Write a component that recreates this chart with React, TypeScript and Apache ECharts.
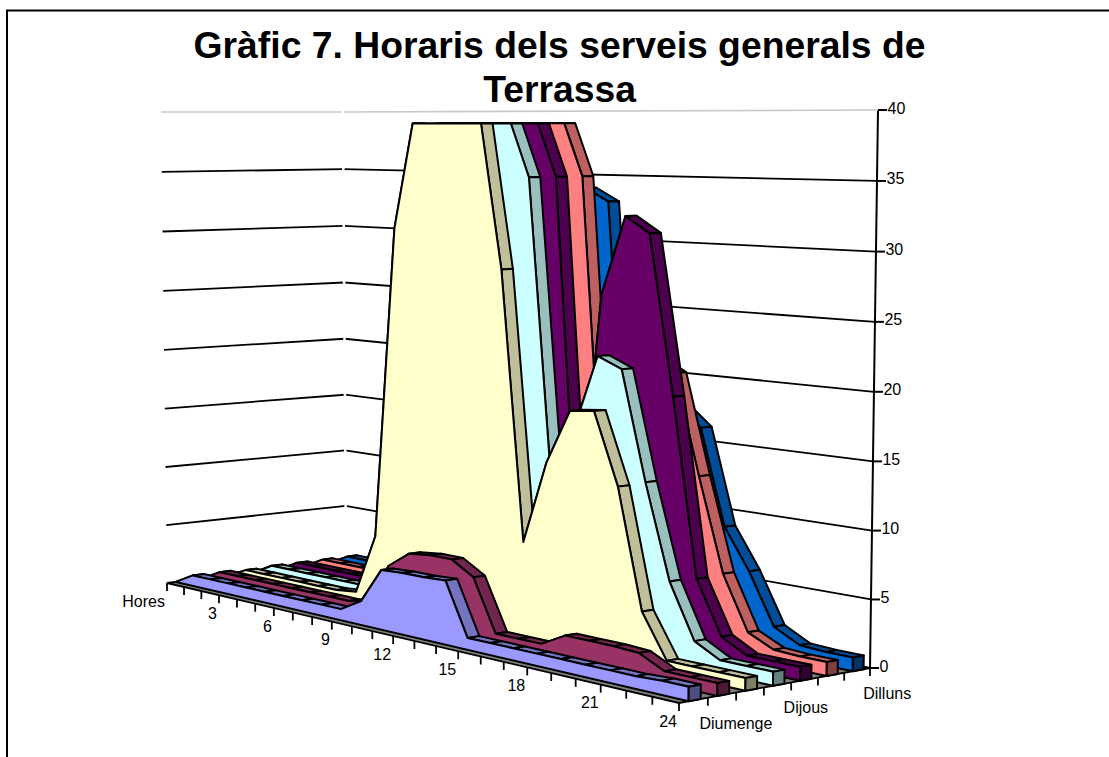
import React, { useEffect, useRef } from "react";
import * as echarts from "echarts";

const titleText = "Gràfic 7. Horaris dels serveis generals de\nTerrassa";
const hourCategories = ["Hores", "1", "2", "3", "4", "5", "6", "7", "8", "9", "10", "11", "12", "13", "14", "15", "16", "17", "18", "19", "20", "21", "22", "23", "24"];
const hourTickLabels = ["Hores", "3", "6", "9", "12", "15", "18", "21", "24"];
const dayNames = ["Diumenge", "Dissabte", "Divendres", "Dijous", "Dimecres", "Dimarts", "Dilluns"];
const dayTickLabels = ["Diumenge", "Dijous", "Dilluns"];
const valueTicks = [0, 5, 10, 15, 20, 25, 30, 35, 40];

const diumenge = [0, 0.9, 0.9, 0.9, 0.9, 0.9, 0.9, 0.9, 0.9, 0.9, 1.9, 4.7, 4.8, 4.8, 4.9, 0.9, 0.9, 0.9, 0.9, 0.9, 0.9, 0.9, 0.9, 1, 1];
const dissabte = [0, 0.9, 0.9, 0.9, 0.9, 0.9, 0.9, 0.9, 0.9, 1.3, 4.4, 5.7, 5.9, 5.9, 4.85, 0.9, 0.9, 0.9, 1.9, 1.9, 1.9, 1.8, 0.9, 0.9, 0.9];
const divendres = [0, 0.8, 0.8, 0.8, 0.8, 0.8, 0.8, 1.0, 5.9, 30.8, 40, 40, 40, 40, 28.1, 7.6, 13.9, 18, 18.2, 12.9, 4.1, 0.9, 0.9, 0.9, 0.9];
const dijous = [0, 0.9, 0.9, 0.9, 0.9, 0.9, 0.9, 1.1, 5, 30, 40, 40, 40, 40, 35, 12.5, 16.2, 21.9, 21.1, 13, 6, 2, 1, 1, 1];
const dimecres = [0, 0.9, 0.9, 0.9, 0.9, 0.9, 0.9, 1.1, 5, 30, 40, 40, 40, 40, 35, 6.5, 26.2, 32.2, 31, 19.1, 5.9, 2, 1, 1, 1];
const dimarts = [0, 0.9, 0.9, 0.9, 0.9, 0.9, 0.9, 1.1, 5, 30, 40, 40, 40, 40, 35, 8, 15, 21.5, 20.5, 13, 6, 2, 1.1, 1, 1];
const dilluns = [0, 0.9, 0.9, 0.9, 0.9, 0.9, 0.9, 1.1, 5, 25, 33, 34, 34, 34, 33, 7, 13, 17.8, 16.2, 8.95, 5.9, 2.1, 1.1, 1, 1];
const dayValues = [diumenge, dissabte, divendres, dijous, dimecres, dimarts, dilluns];
const dayColors = ["#9999FF", "#993366", "#FFFFCC", "#CCFFFF", "#660066", "#FF8080", "#0066CC"];

const W = 1109;
const H = 757;
const VALUE_MAX = 40;
const VALUE_CLIP = 39.05;
const HOUR_MAX = 24;
const RIBBON_FRONT = 0.33;
const RIBBON_BACK = 0.75;
const HEIGHT_BEND = 0.02;
const FONT = '"Liberation Sans", Arial, sans-serif';

// Corners of the chart box on the page: floor and top of the walls.
const A = [167, 583], B = [679, 703], C = [870, 668], D = [346, 561];
const A1 = [161, 112], D1 = [343, 112], C1 = [878, 110];

const dx1 = B[0] - C[0], dx2 = D[0] - C[0], sx = A[0] - B[0] + C[0] - D[0];
const dy1 = B[1] - C[1], dy2 = D[1] - C[1], sy = A[1] - B[1] + C[1] - D[1];
const den = dx1 * dy2 - dx2 * dy1;
const g = (sx * dy2 - dx2 * sy) / den;
const h = (dx1 * sy - sx * dy1) / den;
const a = B[0] - A[0] + g * B[0], b = D[0] - A[0] + h * D[0], c = A[0];
const d = B[1] - A[1] + g * B[1], e = D[1] - A[1] + h * D[1], f = A[1];
const floorAt = (u: number, v: number): [number, number] => {
  const k = g * u + h * v + 1;
  return [(a * u + b * v + c) / k, (d * u + e * v + f) / k];
};
// A stick standing on the floor ends at an affine function of its foot, fixed by three wall corners.
const det = (D[0] - A[0]) * (C[1] - A[1]) - (C[0] - A[0]) * (D[1] - A[1]);
const fit = (t0: number, t1: number, t2: number) => {
  const al = ((t1 - t0) * (C[1] - A[1]) - (t2 - t0) * (D[1] - A[1])) / det;
  const be = ((t2 - t0) * (D[0] - A[0]) - (t1 - t0) * (C[0] - A[0])) / det;
  return (x: number, y: number) => t0 + al * (x - A[0]) + be * (y - A[1]);
};
const topX = fit(A1[0], D1[0], C1[0]);
const topY = fit(A1[1], D1[1], C1[1]);
const project = (u: number, v: number, w: number): [number, number] => {
  const [x, y] = floorAt(u, v);
  const bent = w - HEIGHT_BEND * w * (1 - w);
  return [x + (topX(x, y) - x) * bent, y + (topY(x, y) - y) * bent];
};

// Hour and value pass through the chart's own hidden axes, then through the box projection.
const place = (api: any, hour: number, value: number, depth: number): [number, number] => {
  const pt = api.coord([hour, value]);
  return project(pt[0] / W, depth, 1 - pt[1] / H);
};

const shade = (hex: string, k: number) => {
  const n = parseInt(hex.slice(1), 16);
  const ch = [(n >> 16) & 255, (n >> 8) & 255, n & 255].map((x) => Math.round(x * k));
  return `rgb(${ch[0]},${ch[1]},${ch[2]})`;
};

const clippedProfile = (values: number[]) => {
  const out: [number, number][] = [];
  values.forEach((val, i) => {
    if (i > 0) {
      const prev = values[i - 1];
      if ((prev - VALUE_CLIP) * (val - VALUE_CLIP) < 0) {
        out.push([i - 1 + (VALUE_CLIP - prev) / (val - prev), VALUE_CLIP]);
      }
    }
    out.push([i, Math.min(val, VALUE_CLIP)]);
  });
  return out;
};

const INK = "#000";
const ribbonSeries = (idx: number) => {
  const values = dayValues[idx];
  const color = dayColors[idx];
  const vf = (idx + RIBBON_FRONT) / dayNames.length;
  const vb = (idx + RIBBON_BACK) / dayNames.length;
  const profile = clippedProfile(values);
  const edge = { stroke: INK, lineWidth: 2, lineJoin: "round" };
  return {
    type: "custom",
    name: dayNames[idx],
    coordinateSystem: "cartesian2d",
    silent: true,
    z: 10 + (dayNames.length - idx),
    clip: false,
    data: values.map((val, i) => [i, val]),
    renderItem: (params: any, api: any) => {
      if (params.dataIndex !== 0) return null;
      const children: any[] = [];
      for (let i = 0; i < profile.length - 1; i++) {
        const [h0, y0] = profile[i];
        const [h1, y1] = profile[i + 1];
        children.push({
          type: "polygon",
          shape: { points: [place(api, h0, y0, vf), place(api, h1, y1, vf), place(api, h1, y1, vb), place(api, h0, y0, vb)] },
          style: { fill: shade(color, 0.75), ...edge },
        });
      }
      const front = profile.map(([hr, y]) => place(api, hr, y, vf));
      front.push(place(api, HOUR_MAX, 0, vf), place(api, 0, 0, vf));
      children.push({ type: "polygon", shape: { points: front }, style: { fill: color, ...edge } });
      const last = values[values.length - 1];
      children.push({
        type: "polygon",
        shape: { points: [place(api, HOUR_MAX, 0, vf), place(api, HOUR_MAX, last, vf), place(api, HOUR_MAX, last, vb), place(api, HOUR_MAX, 0, vb)] },
        style: { fill: shade(color, 0.5), ...edge },
      });
      return { type: "group", children };
    },
  };
};

const segment = (p: number[], q: number[], stroke: string, lineWidth: number) => ({
  type: "line",
  shape: { x1: p[0], y1: p[1], x2: q[0], y2: q[1] },
  style: { stroke, lineWidth },
});
const label = (text: string, x: number, y: number, align: string) => ({
  type: "text",
  x,
  y,
  style: { text, align, verticalAlign: "middle", fill: "#000", font: `16px ${FONT}` },
});

const boxSeries = {
  type: "custom",
  coordinateSystem: "cartesian2d",
  silent: true,
  z: 5,
  clip: false,
  data: valueTicks.map((t) => [0, t]),
  renderItem: (params: any, api: any) => {
    const children: any[] = [];
    const t = valueTicks[params.dataIndex];
    if (t > 0 && t < VALUE_MAX) {
      children.push(segment(place(api, 0, t, 0), place(api, 0, t, 1), INK, 1.8));
      children.push(segment(place(api, 0, t, 1), place(api, HOUR_MAX, t, 1), INK, 1.8));
    }
    if (t === VALUE_MAX) {
      children.push(segment(place(api, 0, t, 0), place(api, 0, t, 1), "#c8c8c8", 1.6));
      children.push(segment(place(api, 0, t, 1), place(api, HOUR_MAX, t, 1), "#c8c8c8", 1.6));
      children.push(segment(place(api, 0, 0, 1), place(api, 0, VALUE_MAX + 0.2, 1), "#fff", 2.5));
    }
    if (t === 0) {
      children.push({
        type: "polygon",
        shape: { points: [place(api, 0, 0, 0), place(api, HOUR_MAX, 0, 0), place(api, HOUR_MAX, 0, 1), place(api, 0, 0, 1)] },
        style: { fill: "#808080", stroke: INK, lineWidth: 1.8 },
      });
      children.push(segment(place(api, HOUR_MAX, 0, 1), place(api, HOUR_MAX, VALUE_MAX, 1), INK, 2));
    }
    const tickAt = place(api, HOUR_MAX, t, 1);
    children.push(segment(tickAt, [tickAt[0] + 9, tickAt[1]], INK, 2));
    children.push(label(String(t), tickAt[0] + 9.5, tickAt[1] - 2, "left"));
    return { type: "group", children };
  },
};

const hourAxisSeries = {
  type: "custom",
  coordinateSystem: "cartesian2d",
  silent: true,
  z: 6,
  clip: false,
  data: hourCategories.map((_, i) => [i, 0]),
  renderItem: (params: any, api: any) => {
    const i = params.dataIndex;
    const p = place(api, i, 0, 0);
    const children: any[] = [segment(p, [p[0], p[1] + 8], INK, 1.8)];
    if (hourTickLabels.includes(hourCategories[i])) {
      children.push(label(hourCategories[i], p[0] - 2, p[1] + 18, "right"));
    }
    return { type: "group", children };
  },
};

const dayAxisSeries = {
  type: "custom",
  coordinateSystem: "cartesian2d",
  silent: true,
  z: 6,
  clip: false,
  data: dayNames.map((_, i) => [i, 0]),
  renderItem: (params: any, api: any) => {
    const i = params.dataIndex;
    const p = place(api, HOUR_MAX, 0, (i + 1) / dayNames.length);
    const mid = place(api, HOUR_MAX, 0, (i + 0.5) / dayNames.length);
    const children: any[] = [segment(p, [p[0], p[1] + 8], INK, 1.8)];
    if (dayTickLabels.includes(dayNames[i])) {
      children.push(label(dayNames[i], mid[0] + 6, mid[1] + 23, "left"));
    }
    return { type: "group", children };
  },
};

export default function App() {
  const ref = useRef<HTMLDivElement>(null);
  useEffect(() => {
    const chart = echarts.init(ref.current!, undefined, { renderer: "svg" });
    chart.setOption({
      animation: false,
      backgroundColor: "#fff",
      title: {
        text: titleText,
        left: 554.5,
        top: 18,
        textAlign: "center",
        textStyle: { fontFamily: FONT, fontWeight: "bold", fontSize: 37.3, lineHeight: 44, color: "#000" },
      },
      grid: { left: 0, top: 0, width: W, height: H },
      xAxis: { type: "value", min: 0, max: HOUR_MAX, show: false },
      yAxis: { type: "value", min: 0, max: VALUE_MAX, show: false },
      graphic: [
        {
          type: "polyline",
          shape: { points: [[7, 757], [7, 10.5], [1109, 10.5]] },
          style: { fill: "none", stroke: "#000", lineWidth: 2 },
        },
      ],
      series: [boxSeries, hourAxisSeries, dayAxisSeries, ...dayNames.map((_, i) => ribbonSeries(i))],
    });
    return () => chart.dispose();
  }, []);
  return <div ref={ref} style={{ position: "fixed", left: 0, top: 0, width: W, height: H }} />;
}
